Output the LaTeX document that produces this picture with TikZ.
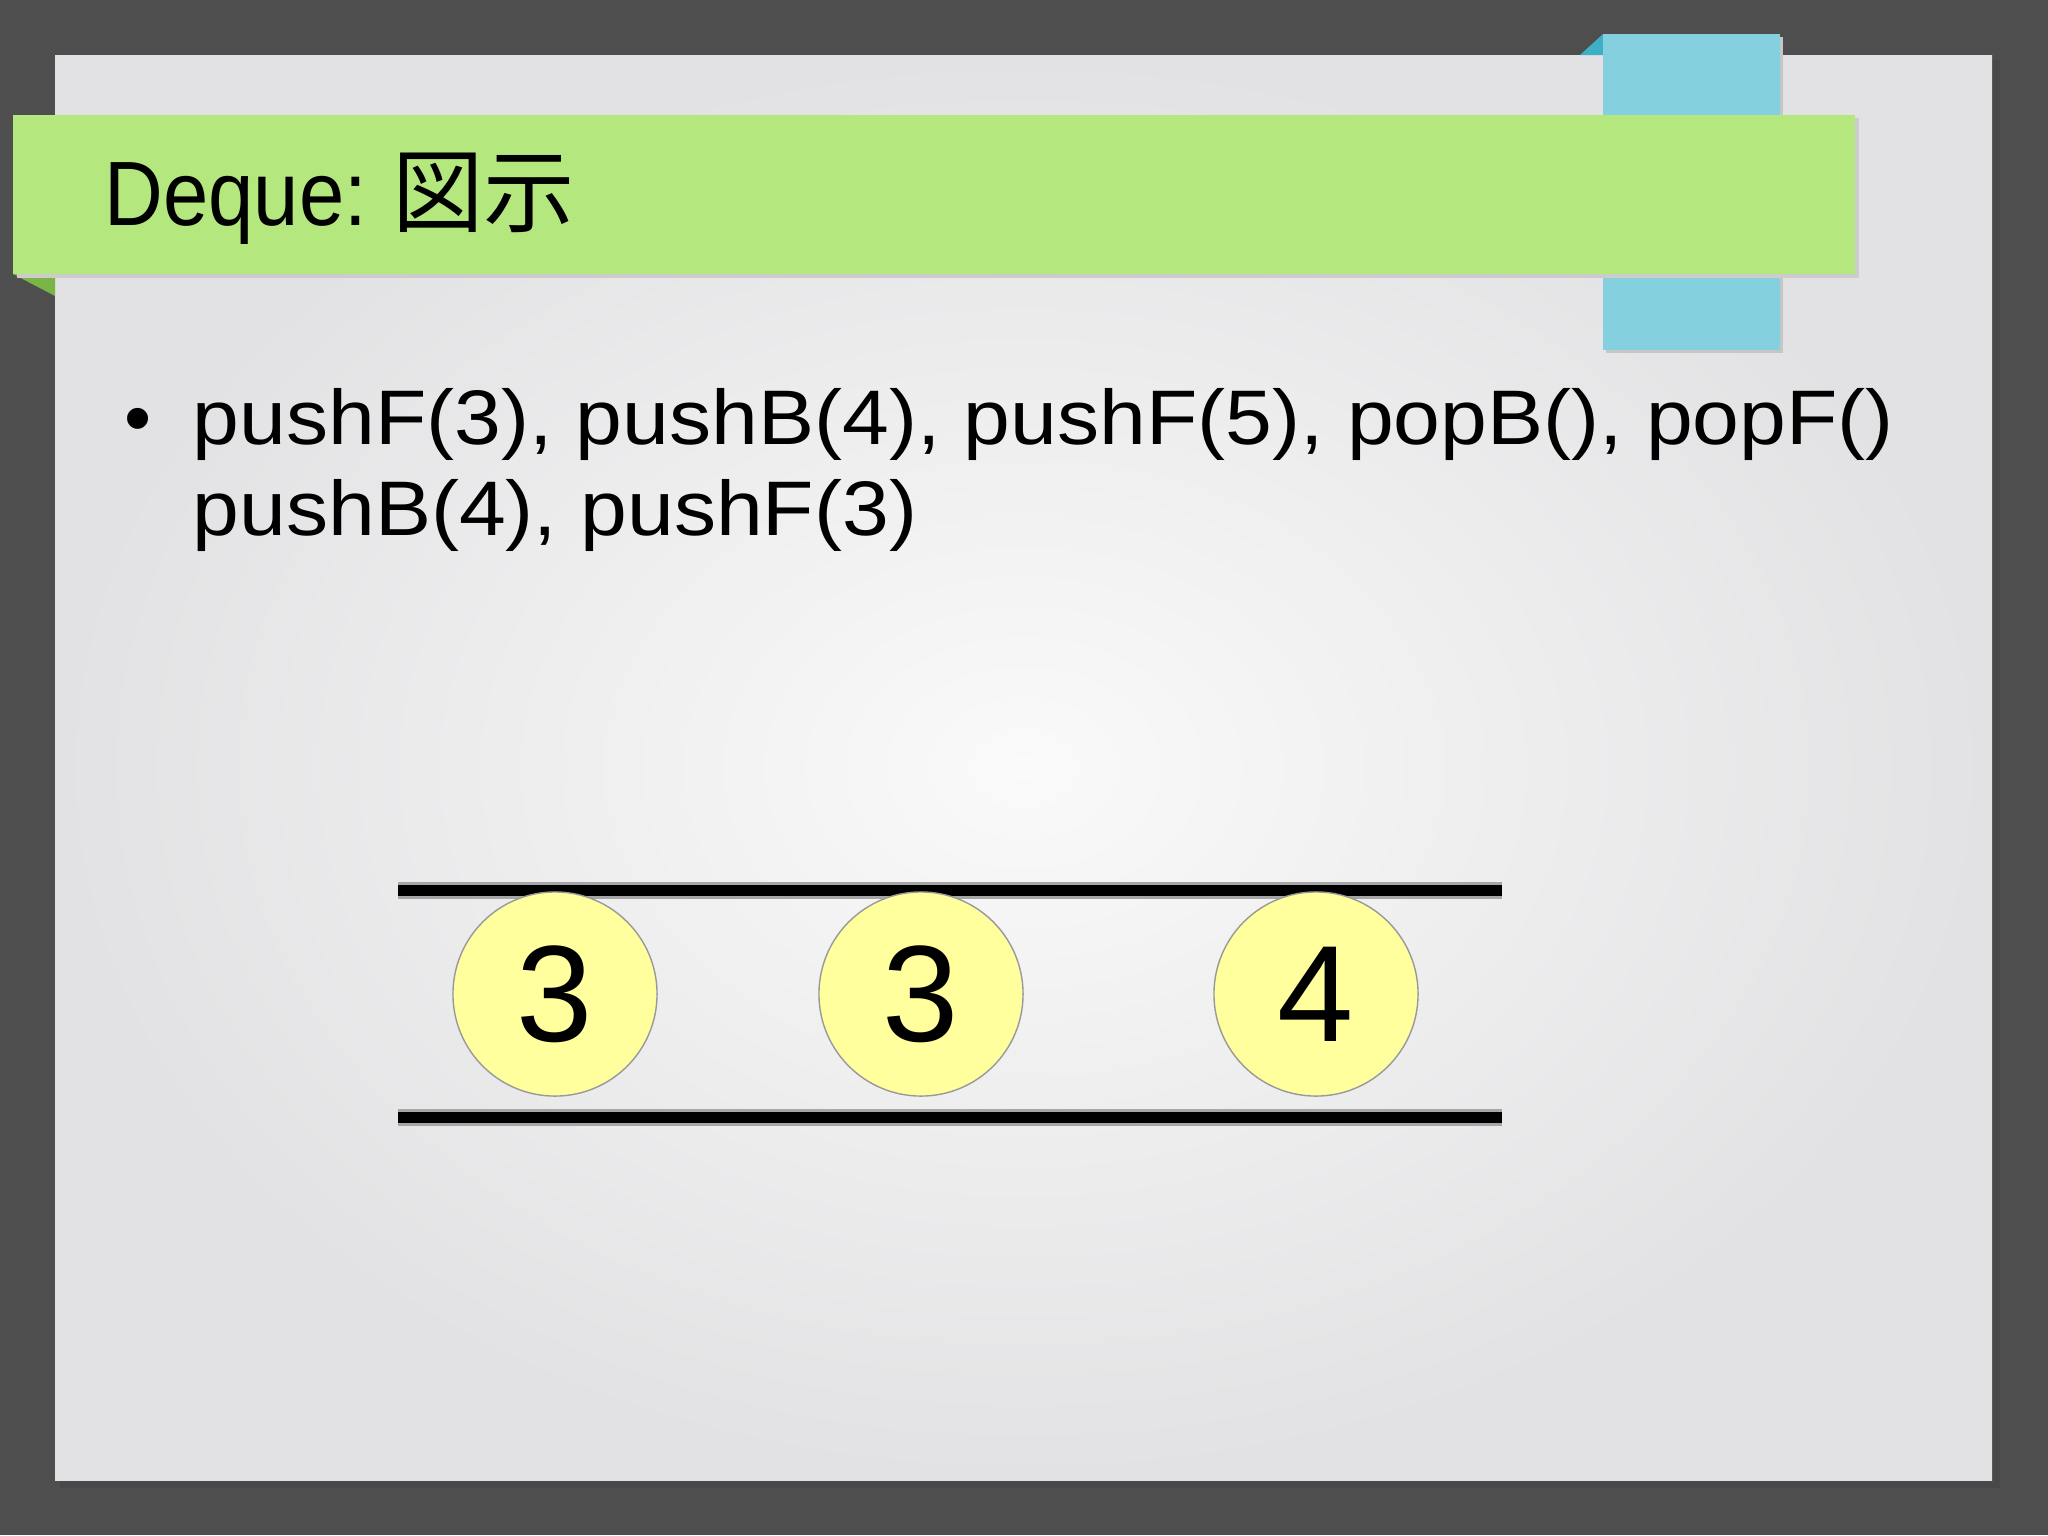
\documentclass[tikz,border=0pt]{standalone}
\usepackage{fontspec}
\setmainfont{Liberation Sans}
\newfontfamily\jpfont{Noto Sans CJK JP}
\usetikzlibrary{positioning}
\definecolor{framegray}{HTML}{4E4E4E}
\definecolor{panelgray}{HTML}{E2E2E4}
\definecolor{bandgreen}{HTML}{B5E77F}
\definecolor{foldgreen}{HTML}{7AB446}
\definecolor{tabblue}{HTML}{84D0DF}
\definecolor{foldblue}{HTML}{3FAFC6}
\definecolor{ballyellow}{HTML}{FFFF9E}
\newcommand{\widetext}[1]{\scalebox{1.087}[1]{#1}}
\begin{document}
\begin{tikzpicture}[x=0.01cm,y=-0.01cm,
  ball/.style={circle,draw=gray!80,thin,fill=ballyellow,minimum size=2.04cm,
    inner sep=0pt,font=\fontsize{39}{39}\selectfont},
  optext/.style={anchor=base west,inner sep=0pt,font=\fontsize{22}{22}\selectfont},
  bar/.style={line width=0.17cm,gray!70},
  barcore/.style={line width=0.11cm,black}]
% frame and page
\useasboundingbox (0,0) rectangle (2048,1535);
\fill[framegray] (0,0) rectangle (2048,1535);
\fill[black!75,opacity=0.35] (60,60) rectangle (2000,1488);
\shade[inner color=white!96!gray,outer color=panelgray] (55,55) rectangle (1992,1480);
% blue tab behind the band
\fill[foldblue] (1580,55) -- (1603,34) -- (1603,55) -- cycle;
\fill[gray!45] (1606,37) rectangle (1783,353);
\fill[tabblue] (1603,34) rectangle (1780,350);
% green band
\fill[foldgreen] (13,274) -- (55,274) -- (55,296) -- cycle;
\fill[gray!40] (17,118) rectangle (1859,278);
\fill[bandgreen] (13,115) rectangle (1855,274);
\node[anchor=base west,inner sep=0pt,font=\fontsize{26}{26}\selectfont]
  (title) at (104,225) {\scalebox{0.89}[1]{Deque:} {\jpfont 図示}};
% bullet text
\node[optext] (dot) at (124,444) {•};
\node[optext] (ops1) at (192,444) {\widetext{pushF(3), pushB(4), pushF(5), popB(), popF()}};
\node[optext] (ops2) at (192,535) {\widetext{pushB(4), pushF(3)}};
% deque walls
\coordinate (tl) at (398,890);
\coordinate (tr) at (1502,890);
\coordinate (bl) at (398,1117);
\coordinate (br) at (1502,1117);
\draw[bar] (tl) -- (tr);
\draw[barcore] (tl) -- (tr);
\draw[bar] (bl) -- (br);
\draw[barcore] (bl) -- (br);
% contents
\node[ball] (front) at (555,994) {3};
\node[ball] (mid) at (921,994) {3};
\node[ball] (back) at (1316,994) {4};
\end{tikzpicture}
\end{document}
